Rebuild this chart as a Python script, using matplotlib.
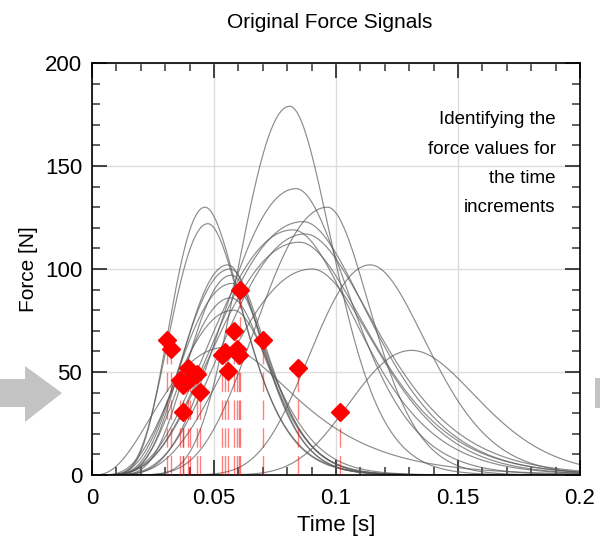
import numpy as np
import matplotlib
matplotlib.use('AGG')
import matplotlib.pyplot as plt
from matplotlib.patches import Polygon
from matplotlib.ticker import MultipleLocator, FuncFormatter

plt.rcParams['font.family'] = ['Liberation Sans', 'DejaVu Sans']

# force pulses: peak time [s], peak force [N], rise factor, decay log-width
peak_times = [0.081, 0.0836, 0.0463, 0.0475, 0.0965, 0.0865, 0.0824, 0.0873, 0.085,
              0.0902, 0.114, 0.131, 0.0557, 0.0566, 0.0572, 0.0575, 0.057, 0.058, 0.055]
peak_forces = [179, 139, 130, 122, 130, 123, 119, 117, 113,
               100, 102, 60.5, 102, 100, 97, 93, 86, 80, 62]
rise_k = [14, 7, 9, 8, 10, 5, 5, 6, 5,
          6, 20, 25, 8, 7, 9, 6, 7, 5, 3]
decay_s = [0.2, 0.24, 0.29, 0.28, 0.17, 0.28, 0.28, 0.29, 0.29,
           0.26, 0.19, 0.19, 0.23, 0.235, 0.22, 0.23, 0.24, 0.25, 0.42]

# identified force values at the time increments
marker_times = [0.0306, 0.0322, 0.0361, 0.0372, 0.0395, 0.0402, 0.0432, 0.0443, 0.0372,
                0.0531, 0.0545, 0.0559, 0.0583, 0.0593, 0.0604, 0.0607, 0.0700, 0.0846, 0.1016]
marker_forces = [65.4, 61.3, 46.3, 43.6, 52.0, 46.8, 49.2, 40.3, 30.7,
                 58.4, 59.7, 50.4, 69.7, 61.3, 58.4, 89.9, 65.4, 51.7, 30.4]

x_ticks = [0, 0.05, 0.1, 0.15, 0.2]
y_ticks = [0, 50, 100, 150, 200]


def pulse(t, tp, a, kl, sr):
    x = np.maximum(t / tp, 1e-9)
    rise = np.exp(kl * (np.log(x) - x + 1))
    decay = np.exp(-np.log(x) ** 2 / (2 * sr ** 2))
    return a * np.where(x < 1, rise, decay)


fig = plt.figure(figsize=(6, 5.48), dpi=100)
ax = fig.add_axes([92 / 600, 73 / 548, 488 / 600, 412 / 548])

t = np.linspace(0, 0.2, 800)
for tp, a, kl, sr in zip(peak_times, peak_forces, rise_k, decay_s):
    ax.plot(t, pulse(t, tp, a, kl, sr), color='#5a5a5a', lw=0.85, alpha=0.7, zorder=2)

for mt, mf in zip(marker_times, marker_forces):
    ax.plot([mt, mt], [0, mf], color='red', lw=1.0, alpha=0.5,
            linestyle=(0, (14, 6)), zorder=3)
ax.plot(marker_times, marker_forces, 'D', color='red', ms=9, mec='red', zorder=4)

ax.set_xlim(0, 0.2)
ax.set_ylim(0, 200)
ax.set_xticks(x_ticks)
ax.set_yticks(y_ticks)
ax.xaxis.set_minor_locator(MultipleLocator(0.01))
ax.yaxis.set_minor_locator(MultipleLocator(10))
ax.xaxis.set_major_formatter(FuncFormatter(lambda v, p: f'{v:g}'))
ax.tick_params(which='both', direction='in', top=True, right=True, labelsize=16)
ax.tick_params(axis='x', pad=9)
ax.tick_params(axis='y', pad=7)
ax.tick_params(which='major', length=11, width=1.3, color='#333333')
ax.tick_params(which='minor', length=5.5, width=1.1, color='#333333')
ax.grid(True, which='major', color='#dcdcdc', lw=1, zorder=0)
for sp in ax.spines.values():
    sp.set_linewidth(1.2)

ax.set_xlabel('Time [s]', fontsize=16, labelpad=5)
ax.set_ylabel('Force [N]', fontsize=15, labelpad=5)
fig.text(330 / 600, 1 - 22 / 548, 'Original Force Signals', fontsize=15,
         ha='center', va='center')

ax.text(0.19, 176.5, 'Identifying the\nforce values for\nthe time\nincrements',
        ha='right', va='top', fontsize=13.5, linespacing=1.95, zorder=5)


def px(x, y):
    return (x / 600, 1 - y / 548)


left_arrow = [px(0, 379), px(25, 379), px(25, 366), px(62, 393),
              px(25, 422), px(25, 407), px(0, 407)]
fig.add_artist(Polygon(left_arrow, closed=True, transform=fig.transFigure,
                       facecolor='#c3c3c3', edgecolor='none'))
right_arrow = [px(595, 378), px(610, 378), px(610, 408), px(595, 408)]
fig.add_artist(Polygon(right_arrow, closed=True, transform=fig.transFigure,
                       facecolor='#c3c3c3', edgecolor='none'))

plt.savefig('out.png', dpi=100)
